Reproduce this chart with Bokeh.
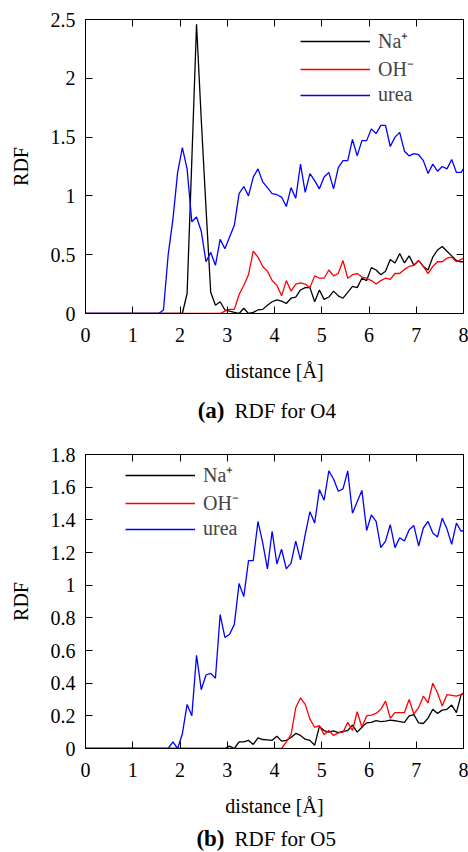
import numpy as np
from bokeh.plotting import figure
from bokeh.models import (LinearAxis, FixedTicker, NumeralTickFormatter, Range1d,
                          Label, CustomJSTickFormatter)
from bokeh.layouts import column
from bokeh.embed import file_html
from bokeh.resources import INLINE

# ---- data (RDF values, bins of 0.1 A) ----
bin_centers = np.round(np.arange(0.05, 8.0, 0.1), 2)
distance = np.concatenate([[0.0], bin_centers, [8.0]])

# Panel (a): O4
na_O4 = [0.0] * 21 + [
    0.0, 0.17, 1.3, 2.46, 1.65, 0.9, 0.18, 0.07, 0.1, 0.03,
    0.02, 0.01, 0.0, 0.045, 0.0, 0.01, 0.03, 0.035, 0.07, 0.1,
    0.115, 0.105, 0.085, 0.13, 0.14, 0.2, 0.22, 0.22, 0.1, 0.2,
    0.12, 0.14, 0.19, 0.15, 0.13, 0.18, 0.23, 0.22, 0.3, 0.28,
    0.39, 0.37, 0.33, 0.36, 0.46, 0.43, 0.51, 0.43, 0.49, 0.41,
    0.45, 0.4, 0.37, 0.48, 0.54, 0.57, 0.53, 0.49, 0.45, 0.44,
] + [0.44]
oh_O4 = [0.0] * 30 + [
    0.02, 0.035, 0.035, 0.16, 0.24, 0.33, 0.53, 0.48, 0.4, 0.36,
    0.28, 0.24, 0.15, 0.28, 0.19, 0.25, 0.26, 0.25, 0.22, 0.32,
    0.3, 0.3, 0.37, 0.32, 0.34, 0.45, 0.3, 0.33, 0.34, 0.31,
    0.3, 0.28, 0.25, 0.28, 0.3, 0.29, 0.34, 0.34, 0.375, 0.4,
    0.41, 0.45, 0.4, 0.34, 0.4, 0.44, 0.44, 0.47, 0.48, 0.44,
    0.46,
] + [0.47]
urea_O4 = [0.0] * 17 + [
    0.03, 0.5, 0.8, 1.2, 1.41, 1.23, 0.78, 0.82, 0.7, 0.44,
    0.52, 0.41, 0.63, 0.55, 0.65, 0.75, 1.02, 1.08, 1.0, 1.16,
    1.23, 1.12, 1.07, 1.02, 1.01, 0.99, 0.91, 1.07, 0.98, 1.27,
    1.03, 1.19, 1.13, 1.06, 1.16, 1.2, 1.06, 1.24, 1.3, 1.3,
    1.48, 1.34, 1.47, 1.47, 1.57, 1.53, 1.6, 1.6, 1.42, 1.5,
    1.54, 1.38, 1.34, 1.36, 1.35, 1.3, 1.19, 1.27, 1.21, 1.25,
    1.23, 1.31, 1.2, 1.2,
] + [1.23]

# Panel (b): O5
na_O5 = [0.0] * 31 + [
    0.015, 0.0, 0.04, 0.04, 0.05, 0.025, 0.065, 0.055, 0.053, 0.05,
    0.075, 0.045, 0.05, 0.067, 0.092, 0.08, 0.057, 0.05, 0.02, 0.135,
    0.11, 0.1, 0.108, 0.097, 0.105, 0.11, 0.143, 0.1, 0.13, 0.157,
    0.16, 0.17, 0.165, 0.167, 0.174, 0.17, 0.165, 0.16, 0.2, 0.207,
    0.157, 0.153, 0.186, 0.24, 0.215, 0.235, 0.24, 0.266, 0.22, 0.33,
] + [0.34]
oh_O5 = [0.0] * 43 + [
    0.04, 0.085, 0.25, 0.31, 0.27, 0.18, 0.13, 0.14, 0.085, 0.11,
    0.08, 0.095, 0.1, 0.16, 0.11, 0.225, 0.13, 0.2, 0.205, 0.215,
    0.24, 0.29, 0.185, 0.22, 0.22, 0.22, 0.3, 0.21, 0.25, 0.32,
    0.28, 0.4, 0.34, 0.26, 0.33, 0.325, 0.32, 0.33,
] + [0.335]
urea_O5 = [0.0] * 19 + [
    0.04, 0.0, 0.09, 0.27, 0.2, 0.57, 0.36, 0.45, 0.46, 0.43,
    0.82, 0.68, 0.7, 0.76, 1.01, 0.93, 1.15, 1.15, 1.39, 1.26,
    1.1, 1.33, 1.13, 1.22, 1.1, 1.135, 1.27, 1.155, 1.31, 1.45,
    1.38, 1.585, 1.52, 1.7, 1.65, 1.575, 1.59, 1.7, 1.44, 1.51,
    1.58, 1.335, 1.43, 1.39, 1.23, 1.27, 1.37, 1.23, 1.29, 1.27,
    1.34, 1.365, 1.24, 1.35, 1.39, 1.32, 1.295, 1.41, 1.345, 1.25,
    1.38, 1.33,
] + [1.335]

x_ticks = [0, 1, 2, 3, 4, 5, 6, 7, 8]
y_ticks_a = [0, 0.5, 1, 1.5, 2, 2.5]
y_ticks_b = [0, 0.2, 0.4, 0.6, 0.8, 1.0, 1.2, 1.4, 1.6, 1.8]
series_names = ["Na\u207a", "OH\u207b", "urea"]
series_colors = ["#000000", "#ff0000", "#0000ff"]

FONT = "'Liberation Serif', 'Times New Roman', serif"
FS = "20px"
W = 468


def style_axis(ax, ticks, labels=True):
    ax.ticker = FixedTicker(ticks=ticks)
    ax.major_tick_in = 7
    ax.major_tick_out = 0
    ax.minor_tick_line_color = None
    ax.axis_line_color = "black"
    ax.major_tick_line_color = "black"
    if labels:
        ax.major_label_text_font = FONT
        ax.major_label_text_font_size = FS
        ax.major_label_text_color = "black"
        ax.axis_label_text_font = FONT
        ax.axis_label_text_font_size = FS
        ax.axis_label_text_font_style = "normal"
        ax.axis_label_text_color = "black"
    else:
        ax.formatter = CustomJSTickFormatter(code="return ''")
        ax.major_label_standoff = 0


def make_panel(na, oh, urea, ymax, yticks, legend_xy, height, border_top, border_bottom):
    p = figure(width=W, height=height, x_range=Range1d(0, 8),
               y_range=Range1d(0, ymax), output_backend="svg",
               toolbar_location=None, min_border_left=85,
               min_border_right=5, min_border_top=border_top,
               min_border_bottom=border_bottom)
    p.xgrid.grid_line_color = None
    p.ygrid.grid_line_color = None
    p.outline_line_color = "black"
    p.outline_line_width = 1

    for vals, name, col in zip([na, oh, urea], series_names, series_colors):
        p.line(distance, vals, line_color=col, line_width=1.3, legend_label=name)

    style_axis(p.xaxis[0], x_ticks)
    style_axis(p.yaxis[0], yticks)
    p.xaxis[0].axis_label = "distance [\u00c5]"
    p.yaxis[0].axis_label = "RDF"
    p.xaxis[0].major_label_standoff = 14
    p.xaxis[0].axis_label_standoff = 15
    p.yaxis[0].major_label_standoff = 10
    p.yaxis[0].axis_label_standoff = 16
    p.yaxis[0].formatter = NumeralTickFormatter(format="0.[0]")

    top = LinearAxis()
    style_axis(top, x_ticks, labels=False)
    p.add_layout(top, "above")
    right = LinearAxis()
    style_axis(right, yticks, labels=False)
    p.add_layout(right, "right")

    lg = p.legend[0]
    lg.location = legend_xy
    lg.label_text_font = FONT
    lg.label_text_font_size = FS
    lg.glyph_width = 70
    lg.glyph_height = 20
    lg.label_height = 20
    lg.spacing = 1
    lg.padding = 2
    lg.margin = 0
    lg.label_standoff = 8
    lg.background_fill_alpha = 0
    lg.border_line_alpha = 0
    return p


def make_caption(tag, text, height, y):
    c = figure(width=W, height=height, output_backend="svg", toolbar_location=None,
               x_axis_location=None, y_axis_location=None, min_border=0,
               outline_line_color=None)
    c.xgrid.grid_line_color = None
    c.ygrid.grid_line_color = None
    c.add_layout(Label(x=139, y=y, x_units="screen", y_units="screen",
                       text=tag, text_font=FONT, text_font_size="23px",
                       text_font_style="bold", text_align="right",
                       text_baseline="middle", text_color="black"))
    c.add_layout(Label(x=149, y=y, x_units="screen", y_units="screen",
                       text=text, text_font=FONT, text_font_size="21px",
                       text_align="left", text_baseline="middle",
                       text_color="black"))
    return c


pa = make_panel(na_O4, oh_O4, urea_O4, 2.5, y_ticks_a, (213, 205), 392, 19, 79)
ca = make_caption("(a)", "RDF for O4", 36, 18)
pb = make_panel(na_O5, oh_O5, urea_O5, 1.8, y_ticks_b, (38, 206), 394, 26, 74)
cb = make_caption("(b)", "RDF for O5", 29, 13)

layout = column(pa, ca, pb, cb)
open("out.html", "w").write(file_html(layout, INLINE))
